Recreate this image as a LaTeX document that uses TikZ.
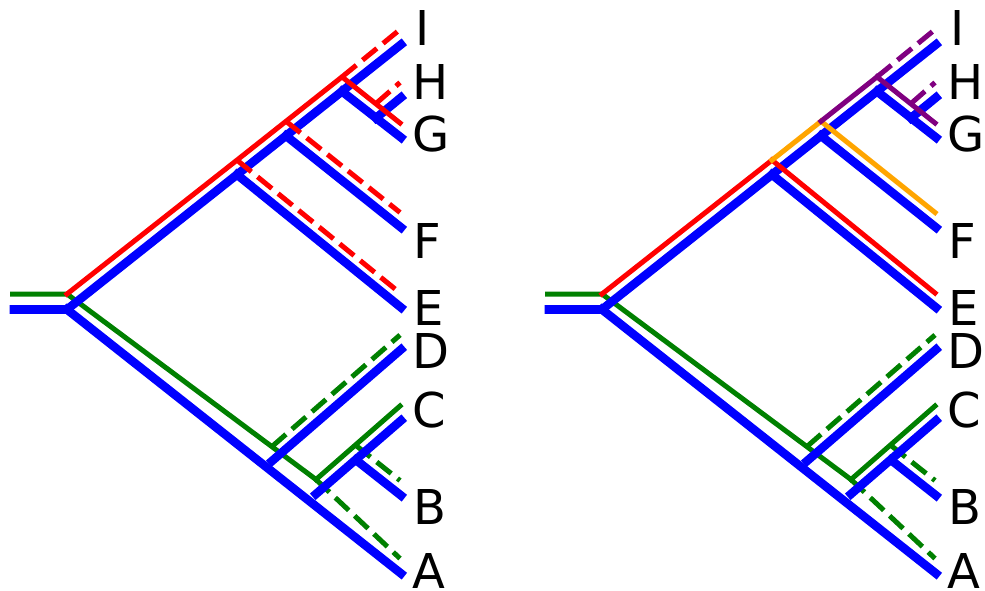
\documentclass[tikz,border=0pt]{standalone}
\usepackage{fontspec}
\setmainfont{DejaVu Sans}
\definecolor{spblue}{HTML}{0000FF}
\definecolor{gred}{HTML}{FF0000}
\definecolor{ggreen}{HTML}{008000}
\definecolor{gorange}{HTML}{FFA500}
\definecolor{gpurple}{HTML}{800080}
\tikzset{
  sp/.style={line width=8.6pt, draw=spblue, line cap=rect, line join=round},
  gsolid/.style={line width=5pt, line cap=rect, line join=round},
  gdash/.style={line width=5pt, line cap=butt, dash pattern=on 18.5pt off 8pt},
  lab/.style={anchor=base west, inner sep=0pt, text height=35pt, text depth=0pt,
              font=\fontsize{48}{48}\selectfont}
}
\newcommand\mkcoords[2]{%
  \begin{scope}[shift={(#2,0)}]
    % species tree (blue)
    \coordinate (#1s0) at (14,309.5);
    \coordinate (#1R)  at (67,309.5);
    \coordinate (#1n1) at (237,174.6);
    \coordinate (#1n2) at (286,135.8);
    \coordinate (#1n3) at (342,91.4);
    \coordinate (#1n4) at (376,118);
    \coordinate (#1X)  at (272,461);
    \coordinate (#1Y)  at (316,494);
    \coordinate (#1Z)  at (356,460);
    \coordinate (#1I)  at (401,44.5);
    \coordinate (#1H)  at (401,97.5);
    \coordinate (#1G)  at (401,137.5);
    \coordinate (#1F)  at (401,227.5);
    \coordinate (#1E)  at (401,307.5);
    \coordinate (#1D)  at (401,349.5);
    \coordinate (#1C)  at (401,420.5);
    \coordinate (#1B)  at (401,495.5);
    \coordinate (#1A)  at (401,573.5);
    % gene tree
    \coordinate (#1gs0) at (12.5,294);
    \coordinate (#1gR)  at (67,294);
    \coordinate (#1gn1) at (237,160.1);
    \coordinate (#1gn2) at (286,121.3);
    \coordinate (#1gn3) at (342,76.9);
    \coordinate (#1gn4) at (376,103.5);
    \coordinate (#1gX)  at (272,446.5);
    \coordinate (#1gY)  at (316,479.5);
    \coordinate (#1gZ)  at (356,445.5);
    \coordinate (#1gI)  at (400,29.5);
    \coordinate (#1gH)  at (400,82.5);
    \coordinate (#1gG)  at (400,123);
    \coordinate (#1gF)  at (400,212.5);
    \coordinate (#1gE)  at (400,293);
    \coordinate (#1gD)  at (400,335);
    \coordinate (#1gC)  at (400,406);
    \coordinate (#1gB)  at (400,480.5);
    \coordinate (#1gA)  at (400,558.5);
  \end{scope}}
\newcommand\lowergene[1]{%
  \draw[gsolid, ggreen] (#1gs0) -- (#1gR) -- (#1gY);
  \draw[gsolid, ggreen] (#1gY) -- (#1gC);
  \draw[gdash, ggreen] (#1gX) -- (#1gD);
  \draw[gdash, ggreen] (#1gY) -- (#1gA);
  \draw[gdash, ggreen] (#1gZ) -- (#1gB);}
\newcommand\sptree[1]{%
  \draw[sp] (#1s0) -- (#1R) -- (#1I);
  \draw[sp] (#1R) -- (#1A);
  \draw[sp] (#1n1) -- (#1E);
  \draw[sp] (#1n2) -- (#1F);
  \draw[sp] (#1n3) -- (#1G);
  \draw[sp] (#1n4) -- (#1H);
  \draw[sp] (#1X) -- (#1D);
  \draw[sp] (#1Y) -- (#1C);
  \draw[sp] (#1Z) -- (#1B);}
\newcommand\labels[2]{%
  \node[lab] (#1lI) at (#2+3,46) {I};
  \node[lab] (#1lH) at (#2,100) {H};
  \node[lab] (#1lG) at (#2,152) {G};
  \node[lab] (#1lF) at (#2+1,258) {F};
  \node[lab] (#1lE) at (#2+1,325) {E};
  \node[lab] (#1lD) at (#2,368) {D};
  \node[lab] (#1lC) at (#2,427) {C};
  \node[lab] (#1lB) at (#2+1,524) {B};
  \node[lab] (#1lA) at (#2,588) {A};}
\begin{document}
\begin{tikzpicture}[x=1pt,y=-1pt]
  \useasboundingbox (0,0) rectangle (985,591);
  \mkcoords{L}{0}
  \mkcoords{P}{535}
  % left panel
  \lowergene{L}
  \sptree{L}
  \draw[gsolid, gred] (LgR) -- (Lgn1) -- (Lgn2) -- (Lgn3) -- (LgG);
  \draw[gdash, gred] (Lgn1) -- (LgE);
  \draw[gdash, gred] (Lgn2) -- (LgF);
  \draw[gdash, gred] (Lgn3) -- (LgI);
  \draw[gdash, gred] (Lgn4) -- (LgH);
  \labels{L}{412}
  % right panel
  \lowergene{P}
  \sptree{P}
  \draw[gsolid, gred] (PgR) -- (Pgn1);
  \draw[gsolid, gred] (Pgn1) -- (PgE);
  \draw[gsolid, gorange] (Pgn1) -- (Pgn2);
  \draw[gsolid, gorange] (Pgn2) -- (PgF);
  \draw[gsolid, gpurple] (Pgn2) -- (Pgn3);
  \draw[gsolid, gpurple] (Pgn3) -- (PgG);
  \draw[gdash, gpurple] (Pgn3) -- (PgI);
  \draw[gdash, gpurple] (Pgn4) -- (PgH);
  \labels{P}{947}
\end{tikzpicture}
\end{document}
